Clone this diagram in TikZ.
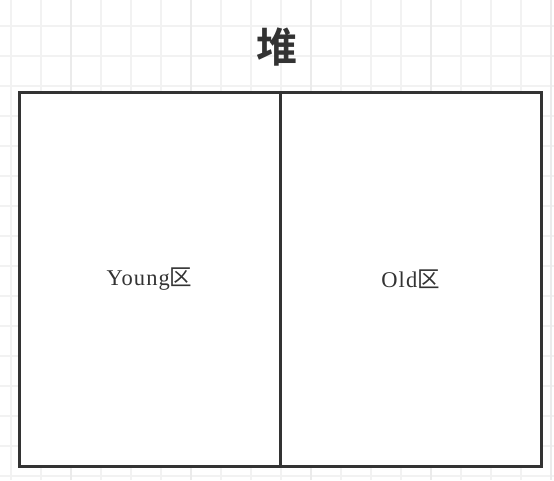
\documentclass[tikz,border=0pt]{standalone}
\usepackage{fontspec}
\setmainfont{Liberation Serif}
\newfontfamily\cjk{Noto Sans CJK SC}
\newfontfamily\cjkb{Noto Sans CJK SC Bold}
\begin{document}
\begin{tikzpicture}[x=1pt,y=-1pt,
  gridminor/.style={draw=black!5,line width=1.5pt},
  gridmajor/.style={draw=black!8,line width=1.5pt},
  region/.style={draw=black!80,line width=3pt,minimum width=261pt,minimum height=374pt,inner sep=0pt,fill=white},
  lbl/.style={text=black!80,font=\fontsize{22.5}{26}\selectfont\addfontfeature{LetterSpace=5}},
  titlestyle/.style={text=black!80,font=\cjkb\fontsize{41}{46}\selectfont}]
\useasboundingbox (0,0) rectangle (554,480);
\fill[white] (0,0) rectangle (554,480);
\foreach \x in {11,41,...,551} {\draw[gridminor] (\x,0) -- (\x,480);}
\foreach \y in {26,56,...,476} {\draw[gridminor] (0,\y) -- (554,\y);}
\foreach \x in {71,191,311,431,551} {\draw[gridmajor] (\x,0) -- (\x,480);}
\node[region] (young) at (149.5,279) {};
\node[region] (old) at (410.5,279) {};
\node[lbl] (ylbl) at (young.center) {Young{\cjk 区}};
\node[lbl] (olbl) at (old.center) {Old{\cjk 区}};
\node[titlestyle] (title) at (277,47) {堆};
\end{tikzpicture}
\end{document}
